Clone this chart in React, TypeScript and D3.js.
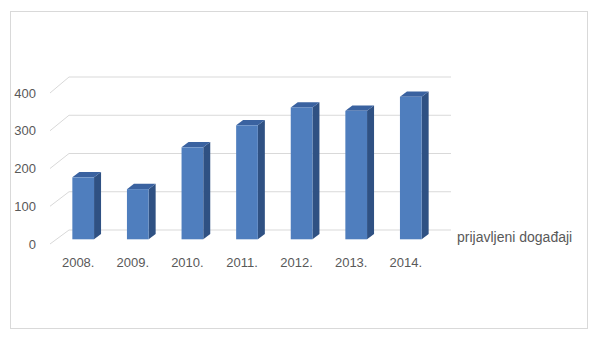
import React from "react";
import * as d3 from "d3";

const categories = ["2008.", "2009.", "2010.", "2011.", "2012.", "2013.", "2014."];
const values = [163, 132, 242, 300, 347, 338, 375];
const yTicks = [0, 100, 200, 300, 400];
const seriesName = "prijavljeni događaji";

const W = 600;
const H = 337;
const FONT = "'Liberation Sans', Arial, sans-serif";

export default function App() {
  const xCenter = d3.scalePoint<string>().domain(categories).range([83.2, 410.8]);
  const barW = 21.7;
  const depthX = 7;
  const depthY = 5.3;
  const yBar = d3.scaleLinear().domain([0, 400]).range([239.3, 87.3]);
  const yBack = d3.scaleLinear().domain([0, 400]).range([230, 77]);
  const yFront = d3.scaleLinear().domain([0, 400]).range([244, 93]);
  const wallFrontX = 50;
  const wallBackX = 69;
  const gridEndX = 451;

  return (
    <div style={{ position: "fixed", left: 0, top: 0, width: W, height: H, background: "#fff" }}>
      <svg width={W} height={H} style={{ display: "block" }}>
        <rect x={0} y={0} width={W} height={H} fill="#fff" />
        <rect x={10.5} y={11.5} width={577} height={317} fill="#fff" stroke="#d9d9d9" strokeWidth={1} />
        {yTicks.map((t) => (
          <g key={t}>
            <line x1={wallFrontX} y1={yFront(t)} x2={wallBackX} y2={yBack(t)} stroke="#d9d9d9" strokeWidth={1} />
            <line x1={wallBackX} y1={yBack(t)} x2={gridEndX} y2={yBack(t)} stroke="#d9d9d9" strokeWidth={1} />
            <text
              x={36}
              y={yFront(t)}
              textAnchor="end"
              dominantBaseline="central"
              fontFamily={FONT}
              fontSize={13}
              fill="#595959"
            >
              {t}
            </text>
          </g>
        ))}
        {categories.map((c, i) => {
          const cx = xCenter(c) as number;
          const x0 = cx - barW / 2;
          const x1 = cx + barW / 2;
          const yb = yBar(0);
          const yt = yBar(values[i]);
          return (
            <g key={c}>
              <polygon
                points={`${x1},${yt} ${x1 + depthX},${yt - depthY} ${x1 + depthX},${yb - depthY} ${x1},${yb}`}
                fill="#2f5183"
              />
              <polygon
                points={`${x0},${yt} ${x0 + depthX},${yt - depthY} ${x1 + depthX},${yt - depthY} ${x1},${yt}`}
                fill="#3a62a0"
              />
              <rect x={x0} y={yt} width={barW} height={yb - yt} fill="#4f7ebe" />
              <text
                x={cx - 5}
                y={262}
                textAnchor="middle"
                dominantBaseline="central"
                fontFamily={FONT}
                fontSize={13}
                fill="#595959"
              >
                {c}
              </text>
            </g>
          );
        })}
        <text x={457} y={237} dominantBaseline="central" fontFamily={FONT} fontSize={14} fill="#595959">
          {seriesName}
        </text>
      </svg>
    </div>
  );
}
